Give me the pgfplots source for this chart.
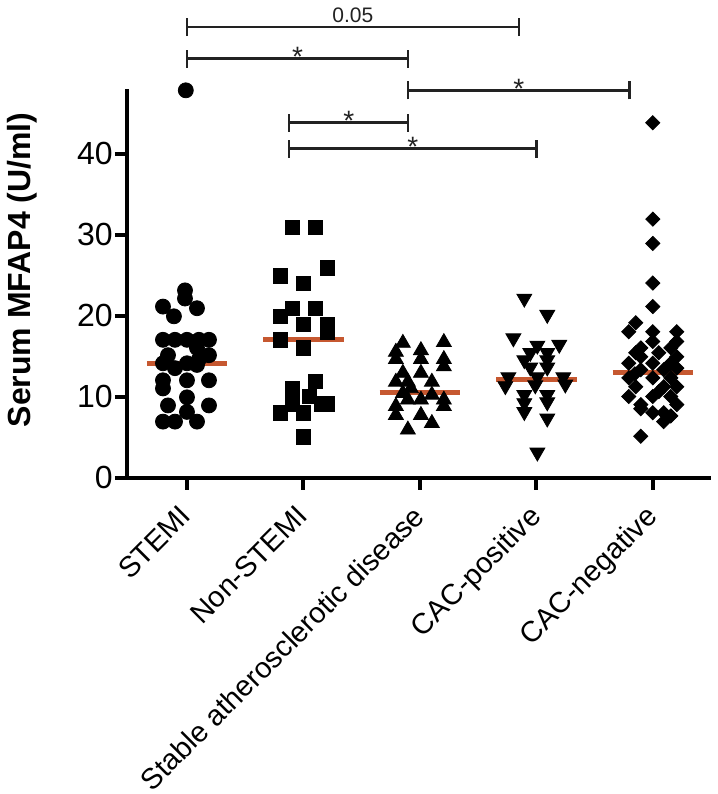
\documentclass[border=0pt]{standalone}
\usepackage{fontspec}
\setmainfont{Liberation Sans}
\usepackage{pgfplots}
\pgfplotsset{compat=1.18}
\definecolor{med}{RGB}{198,88,48}
\definecolor{brk}{RGB}{34,34,34}
\newcommand{\bracket}[4]{%
  \draw[brk, line width=1.3pt] (axis cs:#1,#3) -- (axis cs:#2,#3);
  \draw[brk, line width=1.3pt] ([yshift=-4.5pt]axis cs:#1,#3) -- ([yshift=4.5pt]axis cs:#1,#3);
  \draw[brk, line width=1.3pt] ([yshift=-4.5pt]axis cs:#2,#3) -- ([yshift=4.5pt]axis cs:#2,#3);
  #4}
\begin{document}
\begin{tikzpicture}
\useasboundingbox (-63.5pt,-158.25pt) rectangle (295.5pt,238.75pt);
\begin{axis}[
  scale only axis, width=292pt, height=194.4pt,
  xmin=-0.515, xmax=4.5, ymin=0, ymax=48,
  axis x line*=bottom, axis y line*=left,
  axis line style={line width=2pt, -},
  xtick={0,1,2,3,4},
  xticklabels={STEMI,Non-STEMI,Stable atherosclerotic disease,CAC-positive,CAC-negative},
  ytick={0,10,20,30,40},
  tick style={line width=2pt, black},
  major tick length=6pt,
  tick align=outside,
  xticklabel style={xshift=-4.3pt, yshift=-5.4pt, rotate=45, anchor=north east, font=\fontsize{14.5}{17}\selectfont, inner sep=1pt},
  yticklabel style={font=\fontsize{16}{18}\selectfont, inner sep=1pt},
  /pgf/number format/assume math mode=true,
  ylabel={Serum MFAP4 (U/ml)},
  ylabel style={font=\fontsize{16}{18}\selectfont\bfseries, at={(axis description cs:-0.18,0.534)}, anchor=center},
  clip=false,
]
% STEMI
\addplot[only marks, mark=*, mark size=3.75pt, black] coordinates {
(-0.01,47.8)
(-0.017,23.1) (-0.017,22.1) (-0.206,21.1) (0.086,20.9) (-0.112,19.9)
(-0.206,17.0) (-0.103,17.0) (0,17.0) (0.103,17.0) (0.189,17.0)
(0.086,16.0) (0.189,15.1) (-0.163,15.1) (-0.206,14.1) (0,14.1) (0.086,13.9) (-0.103,13.5) (0.103,14.6)
(-0.206,12.0) (0,12.0) (0.189,12.0) (-0.206,11.0)
(0,9.9) (-0.163,8.9) (0.189,8.9) (0,8.1)
(-0.206,6.9) (-0.103,6.9) (0.086,6.9)
};
% Non-STEMI
\addplot[only marks, mark=square*, mark size=3.6pt, black] coordinates {
(0.906,30.9) (1.103,30.9) (1.206,25.9) (0.803,24.9) (1,24.0) (0.906,20.9) (1.103,20.9) (0.803,19.9) (1,18.9) (1.206,18.9) (1.206,18.0) (0.803,17.0) (1,16.0) (1.103,11.9) (0.906,11.0) (1.052,10.0) (0.906,9.1) (1.155,9.1) (1.206,9.1) (0.803,8.0) (1,8.0) (1,5.0)
};
% Stable
\addplot[only marks, mark=triangle*, mark size=4.3pt, black] coordinates {
(1.854,16.6) (2.206,16.7) (1.794,15.5) (2.009,15.7) (1.794,14.6) (2.009,14.6) (2.206,14.6) (2.206,13.7) (1.854,12.9) (2.009,12.9) (1.794,11.8) (1.897,11.8) (2.103,11.8) (1.923,11.0) (2.103,10.2) (1.854,10.4) (1.897,9.6) (2.009,9.6) (2.206,9.6) (1.794,8.8) (2.206,8.8) (1.794,7.7) (2.009,7.7) (2.103,6.7) (1.897,5.9)
};
% CAC-positive
\addplot[only marks, mark=triangle*, mark size=4.3pt, mark options={rotate=180}, black] coordinates {
(2.897,22.1) (3.094,20.1) (2.803,17.2) (3.009,16.3) (3.197,16.4) (2.948,15.4) (3.094,15.4) (2.897,14.5) (3.094,14.5) (2.948,13.6) (3.094,13.6) (2.760,12.4) (3.009,12.4) (3.232,12.4) (2.734,11.3) (2.991,11.4) (3.249,11.5) (2.897,10.2) (3.094,10.2) (2.897,9.2) (3.094,9.3) (2.897,8.1) (3.094,7.3) (3.009,3.1)
};
% CAC-negative
\addplot[only marks, mark=square*, mark size=2.5pt, mark options={rotate=45}, black] coordinates {
(4.0,43.8) (4.0,31.9) (4.0,28.9) (4.0,24.0) (4.0,21.1) (3.854,19.1) (3.794,18.0) (4.0,18.0) (4.206,18.0) (4.0,16.8) (4.206,16.8) (3.897,16.0) (4.155,16.0) (3.897,14.9) (4.206,14.9) (3.854,15.4) (4.052,15.4) (3.794,14.1) (4.0,14.1) (4.155,14.1) (3.897,13.3) (4.094,13.3) (4.206,13.5) (3.846,12.8) (3.794,12.3) (4.0,12.3) (4.155,12.3) (3.854,11.2) (4.094,11.2) (4.206,11.2) (4.052,10.6) (3.794,10.0) (4.0,10.0) (4.155,10.0) (3.897,9.0) (4.206,9.0) (3.897,8.5) (4.0,8.0) (4.094,8.0) (4.155,7.6) (4.094,6.9) (3.897,5.1)
};
% medians
\addplot[med, line width=2.5pt] coordinates {(-0.345,14.1) (0.345,14.1)};
\addplot[med, line width=2.5pt] coordinates {(0.655,17.0) (1.345,17.0)};
\addplot[med, line width=2.5pt] coordinates {(1.655,10.5) (2.345,10.5)};
\addplot[med, line width=2.5pt] coordinates {(2.655,12.1) (3.345,12.1)};
\addplot[med, line width=2.5pt] coordinates {(3.655,13.0) (4.345,13.0)};
% brackets
\bracket{0}{2.85}{55.6}{\node[brk, font=\fontsize{10.5}{12}\selectfont, anchor=base, inner sep=0pt] at (axis cs:1.425,55.6) [yshift=2.5pt] {0.05};}
\bracket{0}{1.897}{51.7}{\node[brk, font=\fontsize{14}{16}\selectfont, anchor=base, inner sep=0pt] at (axis cs:0.95,51.7) [yshift=-4pt] {*};}
\bracket{1.897}{3.80}{47.8}{\node[brk, font=\fontsize{14}{16}\selectfont, anchor=base, inner sep=0pt] at (axis cs:2.85,47.8) [yshift=-4pt] {*};}
\bracket{0.876}{1.897}{43.8}{\node[brk, font=\fontsize{14}{16}\selectfont, anchor=base, inner sep=0pt] at (axis cs:1.39,43.8) [yshift=-4pt] {*};}
\bracket{0.876}{3.0}{40.6}{\node[brk, font=\fontsize{14}{16}\selectfont, anchor=base, inner sep=0pt] at (axis cs:1.94,40.6) [yshift=-4pt] {*};}
\end{axis}
\end{tikzpicture}
\end{document}
